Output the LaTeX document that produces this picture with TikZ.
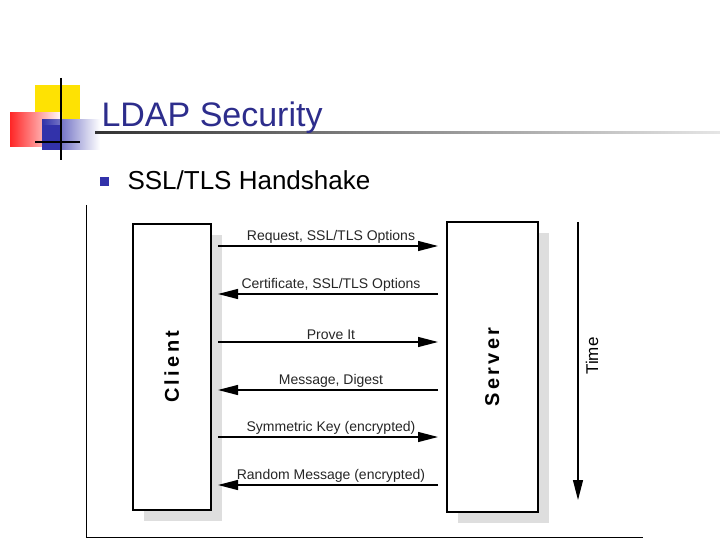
\documentclass[tikz,border=0pt]{standalone}
\usepackage{fontspec}
\setmainfont{Liberation Sans}
\usetikzlibrary{arrows.meta}
\definecolor{ttl}{RGB}{45,45,140}
\definecolor{bul}{RGB}{50,50,170}
\begin{document}
\begin{tikzpicture}[x=1pt,y=-1pt,
  box/.style={draw=black,line width=1.6pt,fill=white},
  shad/.style={fill=black!13,draw=none},
  msg/.style={line width=1.2pt,-{Triangle[length=20pt,width=10pt]}},
  lab/.style={font=\fontsize{14}{14}\selectfont,text=black!85,above=-1pt}]
\useasboundingbox (0,0) rectangle (720,540);
\fill[white] (0,0) rectangle (720,540);
% logo decoration
\fill[yellow!85!orange] (35,85) rectangle (80,125);
\shade[left color=red!85,right color=white] (10,113) rectangle (62,147);
\shade[left color=bul,right color=white] (42,120) rectangle (100,150);
\fill[bul] (42,125) rectangle (62,150);
\draw[line width=1.8pt] (61,78) -- (61,160);
\draw[line width=1.2pt] (35,142) -- (80,142);
\shade[left color=black!80,right color=black!10] (95,132) rectangle (720,134);
\node[anchor=base west,text=ttl,font=\fontsize{34}{34}\selectfont] (title) at (98,127) {LDAP Security};
\fill[bul] (100,177) rectangle (109,186);
\node[anchor=base west,font=\fontsize{26}{26}\selectfont] (sub) at (124,190) {SSL/TLS Handshake};
% frame
\draw[line width=0.8pt] (86,205) -- (86,537) -- (643,537);
% boxes
\fill[shad] (144,235) rectangle (222,521);
\fill[shad] (458,233) rectangle (549,523);
\node[box,minimum width=78pt,minimum height=286pt,anchor=north west] (client) at (132,223) {};
\node[box,minimum width=91pt,minimum height=290pt,anchor=north west] (server) at (446,221) {};
\node[rotate=90,font=\bfseries\fontsize{20}{20}\selectfont] at (client.center) {C\,l\,i\,e\,n\,t};
\node[rotate=90,font=\bfseries\fontsize{20}{20}\selectfont] at (server.center) {S\,e\,r\,v\,e\,r};
% messages
\foreach \y/\d/\t in {246/1/{Request, SSL/TLS Options},294/0/{Certificate, SSL/TLS Options},342/1/{Prove It},390/0/{Message, Digest},437/1/{Symmetric Key (encrypted)},485/0/{Random Message (encrypted)}}{
  \coordinate (l\y) at (218,\y);
  \coordinate (r\y) at (438,\y);
  \ifnum\d=1 \draw[msg] (l\y) -- (r\y); \else \draw[msg] (r\y) -- (l\y); \fi
  \node[lab] at (331,\y) {\t};
}
% time
\coordinate (t1) at (578,222);
\coordinate (t2) at (578,500);
\draw[msg] (t1) -- (t2);
\node[rotate=90,font=\fontsize{17}{17}\selectfont] (time) at (592,356) {Time};
\end{tikzpicture}
\end{document}
